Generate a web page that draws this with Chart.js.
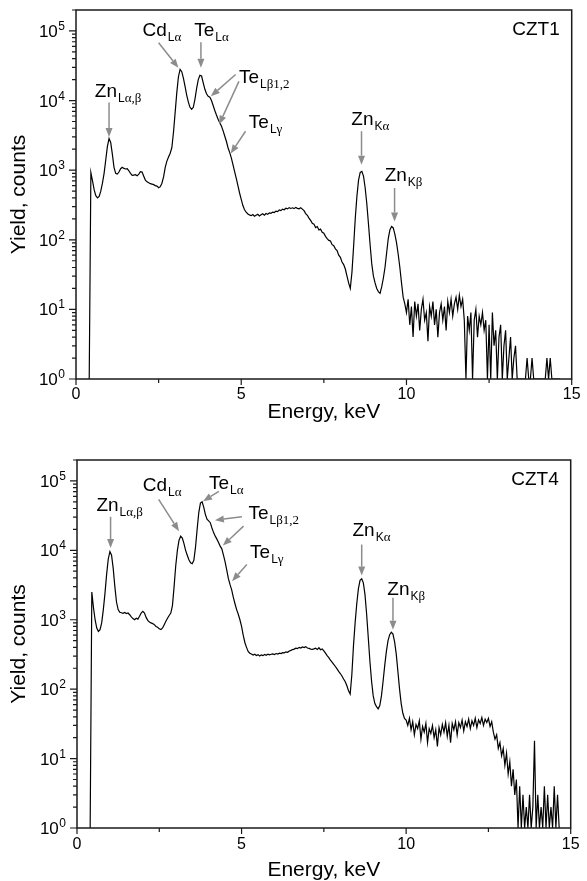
<!DOCTYPE html>
<html>
<head>
<meta charset="utf-8">
<script src="https://cdn.jsdelivr.net/npm/chart.js@4.4.1/dist/chart.umd.min.js"></script>
<style>
html, body { margin: 0; padding: 0; background: #fff; overflow: hidden; }
.panel { position: absolute; left: 0; width: 587px; }
#panel-czt1 { top: 0; height: 430px; }
#panel-czt4 { top: 430px; height: 451px; }
</style>
</head>
<body>
<div class="panel" id="panel-czt1"><canvas id="grafico-czt1"></canvas></div>
<div class="panel" id="panel-czt4"><canvas id="grafico-czt4"></canvas></div>
<script>
// channel energies, keV (one row per keV)
const energy = [
    0.40, 0.45, 0.50, 0.55, 0.60, 0.65, 0.70, 0.75, 0.80, 0.85, 0.90, 0.95,
    1.00, 1.05, 1.10, 1.15, 1.20, 1.25, 1.30, 1.35, 1.40, 1.45, 1.50, 1.55, 1.60, 1.65, 1.70, 1.75, 1.80, 1.85, 1.90, 1.95,
    2.00, 2.05, 2.10, 2.15, 2.20, 2.25, 2.30, 2.35, 2.40, 2.45, 2.50, 2.55, 2.60, 2.65, 2.70, 2.75, 2.80, 2.85, 2.90, 2.95,
    3.00, 3.05, 3.10, 3.15, 3.20, 3.25, 3.30, 3.35, 3.40, 3.45, 3.50, 3.55, 3.60, 3.65, 3.70, 3.75, 3.80, 3.85, 3.90, 3.95,
    4.00, 4.05, 4.10, 4.15, 4.20, 4.25, 4.30, 4.35, 4.40, 4.45, 4.50, 4.55, 4.60, 4.65, 4.70, 4.75, 4.80, 4.85, 4.90, 4.95,
    5.00, 5.05, 5.10, 5.15, 5.20, 5.25, 5.30, 5.35, 5.40, 5.45, 5.50, 5.55, 5.60, 5.65, 5.70, 5.75, 5.80, 5.85, 5.90, 5.95,
    6.00, 6.05, 6.10, 6.15, 6.20, 6.25, 6.30, 6.35, 6.40, 6.45, 6.50, 6.55, 6.60, 6.65, 6.70, 6.75, 6.80, 6.85, 6.90, 6.95,
    7.00, 7.05, 7.10, 7.15, 7.20, 7.25, 7.30, 7.35, 7.40, 7.45, 7.50, 7.55, 7.60, 7.65, 7.70, 7.75, 7.80, 7.85, 7.90, 7.95,
    8.00, 8.05, 8.10, 8.15, 8.20, 8.25, 8.30, 8.35, 8.40, 8.45, 8.50, 8.55, 8.60, 8.65, 8.70, 8.75, 8.80, 8.85, 8.90, 8.95,
    9.00, 9.05, 9.10, 9.15, 9.20, 9.25, 9.30, 9.35, 9.40, 9.45, 9.50, 9.55, 9.60, 9.65, 9.70, 9.75, 9.80, 9.85, 9.90, 9.95,
    10.00, 10.05, 10.10, 10.15, 10.20, 10.25, 10.30, 10.35, 10.40, 10.45, 10.50, 10.55, 10.60, 10.65, 10.70, 10.75, 10.80, 10.85, 10.90, 10.95,
    11.00, 11.05, 11.10, 11.15, 11.20, 11.25, 11.30, 11.35, 11.40, 11.45, 11.50, 11.55, 11.60, 11.65, 11.70, 11.75, 11.80, 11.85, 11.90, 11.95,
    12.00, 12.05, 12.10, 12.15, 12.20, 12.25, 12.30, 12.35, 12.40, 12.45, 12.50, 12.55, 12.60, 12.65, 12.70, 12.75, 12.80, 12.85, 12.90, 12.95,
    13.00, 13.05, 13.10, 13.15, 13.20, 13.25, 13.30, 13.35, 13.40, 13.45, 13.50, 13.55, 13.60, 13.65, 13.70, 13.75, 13.80, 13.85, 13.90, 13.95,
    14.00, 14.05, 14.10, 14.15, 14.20, 14.25, 14.30, 14.35, 14.40, 14.45, 14.50, 14.55, 14.60, 14.65
];

const countsCZT1 = [
    1, 920, 700, 520, 430, 400, 420, 500, 650, 900, 1400, 2200,
    2850, 2500, 1700, 1100, 900, 880, 940, 1050, 1100, 1060, 1040, 1050, 980, 900, 840, 850, 860, 830, 880, 950,
    940, 820, 720, 680, 660, 640, 630, 620, 600, 590, 560, 580, 650, 800, 1100, 1350, 1550, 1750, 2100, 3500,
    6700, 13000, 22000, 28000, 26000, 21000, 16000, 12000, 9500, 8000, 7500, 8000, 10500, 15000, 20000, 23000, 22500, 18000, 14500, 12500,
    11500, 11200, 10000, 8500, 7200, 6200, 5400, 4800, 4300, 3700, 3100, 2600, 2100, 1800, 1500, 1200, 950, 760, 600, 470,
    380, 310, 270, 250, 235, 228, 222, 230, 218, 225, 232, 220, 228, 236, 226, 238, 232, 244, 240, 250,
    246, 258, 254, 268, 262, 276, 270, 284, 278, 290, 282, 288, 280, 292, 283, 278, 288, 276, 262, 238,
    225, 205, 190, 172, 168, 150, 155, 138, 142, 128, 124, 112, 104, 98, 96, 85, 82, 74, 70, 60,
    56, 48, 44, 38, 30, 24, 20, 34, 80, 200, 420, 720, 930, 960, 820, 560, 330, 170, 85, 45,
    30, 24, 20, 18, 17, 21, 28, 40, 65, 105, 140, 155, 148, 120, 90, 62, 40, 24, 15, 12,
    9, 14, 6, 11, 4, 13, 8, 12, 5, 10, 14, 7, 9, 3.5, 11, 8, 13, 6, 10, 4,
    9, 12, 7, 11, 5, 13, 9, 14, 8, 12, 15, 10, 16, 11, 14, 7, 1, 8, 5, 9,
    1, 7, 10, 4, 8, 6, 9, 5, 7, 1, 6, 1, 9, 3, 5, 1, 4, 6, 1, 3,
    5, 1, 2, 4, 1, 2, 3, 1, 1, 1, 1, 1, 1, 2, 1, 1, 2, 1, 1, 1,
    1, 1, 1, 1, 1, 2, 1, 2, 1, 1, 1, 1, 1, 1
];

const countsCZT4 = [
    1, 2500, 1500, 1000, 760, 680, 720, 900, 1400, 2400, 4500, 7500,
    9600, 8500, 5500, 3000, 1800, 1400, 1280, 1260, 1240, 1270, 1230, 1250, 1180, 1100, 1040, 1000, 1050, 1020, 1120, 1250,
    1320, 1250, 1080, 980, 930, 900, 880, 850, 800, 780, 740, 720, 760, 850, 950, 1050, 1150, 1250, 1600, 3000,
    6000, 10000, 14000, 16000, 15000, 12500, 10000, 8500, 7300, 6600, 6400, 7200, 11000, 20000, 35000, 48000, 50000, 42000, 33000, 28000,
    26500, 25000, 21000, 18000, 16000, 14500, 13000, 11500, 10500, 8500, 6800, 5200, 3900, 3200, 2700, 2100, 1700, 1400, 1200, 1000,
    800, 600, 470, 400, 350, 330, 320, 310, 318, 306, 314, 300, 312, 304, 316, 308, 320, 312, 318, 322,
    316, 326, 320, 330, 326, 336, 334, 345, 340, 355, 362, 372, 378, 390, 385, 400, 392, 405, 398, 410,
    392, 386, 378, 374, 380, 388, 372, 395, 370, 380, 355, 330, 305, 285, 262, 245, 228, 212, 196, 180,
    168, 155, 140, 128, 112, 95, 85, 160, 420, 900, 1700, 2800, 3700, 3900, 3400, 2300, 1200, 550, 250, 130,
    80, 62, 56, 52, 58, 80, 130, 220, 350, 500, 610, 660, 620, 480, 320, 180, 100, 62, 45, 38,
    36, 30, 38, 26, 34, 22, 31, 27, 35, 19, 29, 24, 32, 17, 27, 23, 30, 20, 26, 15,
    28, 22, 31, 24, 33, 21, 30, 17, 32, 26, 34, 22, 33, 28, 36, 25, 34, 29, 37, 27,
    35, 30, 38, 28, 36, 32, 39, 30, 37, 33, 38, 29, 34, 24, 19, 22, 14, 17, 11, 14,
    8, 12, 6, 9, 4, 7, 3, 5, 1, 4, 1, 3, 1, 2, 1, 3, 1, 2, 18, 1,
    3, 1, 2, 1, 4, 1, 3, 1, 2, 1, 4, 1, 3, 1
];

const xMajorTicks = [0, 5, 10, 15];
const xMinorTicks = [2.5, 7.5, 12.5];
const yDecades = [1, 10, 100, 1000, 10000, 100000];
const yMinorFactors = [2, 3, 4, 5, 6, 7, 8, 9];

// peak labels: main text, subscript, anchor (energy, counts)
const labelsCZT1 = [
    {main: 'Zn', sub: 'Lα,β', e: 0.57, c: 11400},
    {main: 'Cd', sub: 'Lα', e: 2.01, c: 84100},
    {main: 'Te', sub: 'Lα', e: 3.58, c: 84100},
    {main: 'Te', sub: 'Lβ1,2', e: 4.93, c: 18000},
    {main: 'Te', sub: 'Lγ', e: 5.23, c: 4090},
    {main: 'Zn', sub: 'Kα', e: 8.33, c: 4520},
    {main: 'Zn', sub: 'Kβ', e: 9.34, c: 690}
];
const arrowsCZT1 = [
    [1.00, 9400, 1.00, 3000],
    [2.50, 67600, 3.10, 29500],
    [3.78, 69000, 3.78, 29500],
    [4.83, 23700, 4.08, 11500],
    [4.93, 18900, 4.33, 4520],
    [5.13, 3620, 4.68, 1730],
    [8.64, 3620, 8.64, 1200],
    [9.64, 555, 9.64, 183]
];
const labelsCZT4 = [
    {main: 'Zn', sub: 'Lα,β', e: 0.59, c: 36600},
    {main: 'Cd', sub: 'Lα', e: 2.00, c: 71300},
    {main: 'Te', sub: 'Lα', e: 4.01, c: 75400},
    {main: 'Te', sub: 'Lβ1,2', e: 5.21, c: 27800},
    {main: 'Te', sub: 'Lγ', e: 5.26, c: 7800},
    {main: 'Zn', sub: 'Kα', e: 8.37, c: 16000},
    {main: 'Zn', sub: 'Kβ', e: 9.43, c: 2300}
];
const arrowsCZT4 = [
    [1.02, 30400, 1.02, 10800],
    [2.48, 54100, 3.10, 18900],
    [4.31, 70500, 3.83, 51100],
    [5.01, 30400, 4.19, 27200],
    [5.06, 22300, 4.43, 11700],
    [5.16, 6240, 4.71, 3580],
    [8.65, 12100, 8.65, 4330],
    [9.60, 2070, 9.60, 720]
];

const SANS = '"Liberation Sans", Arial, sans-serif';
const SERIF = '"Liberation Serif", "Times New Roman", serif';

function drawArrow(ctx, x0, y0, x1, y1) {
    const ang = Math.atan2(y1 - y0, x1 - x0);
    const headLen = 9, headW = 3.5;
    const bx = x1 - headLen * Math.cos(ang), by = y1 - headLen * Math.sin(ang);
    ctx.strokeStyle = '#8c8c8c';
    ctx.fillStyle = '#8c8c8c';
    ctx.lineWidth = 1.5;
    ctx.beginPath();
    ctx.moveTo(x0, y0);
    ctx.lineTo(bx, by);
    ctx.stroke();
    ctx.beginPath();
    ctx.moveTo(x1, y1);
    ctx.lineTo(bx - headW * Math.sin(ang), by + headW * Math.cos(ang));
    ctx.lineTo(bx + headW * Math.sin(ang), by - headW * Math.cos(ang));
    ctx.closePath();
    ctx.fill();
}

function drawPeakLabel(ctx, lbl, x, y) {
    ctx.fillStyle = '#000';
    ctx.textAlign = 'left';
    ctx.textBaseline = 'alphabetic';
    ctx.font = '19px ' + SANS;
    ctx.fillText(lbl.main, x, y);
    let cx = x + ctx.measureText(lbl.main).width + 1;
    for (const ch of lbl.sub) {
        ctx.font = 'LK'.includes(ch) ? '12px ' + SANS : '13px ' + SERIF;
        ctx.fillText(ch, cx, y + 5);
        cx += ctx.measureText(ch).width;
    }
}

const spectrumDecor = {
    id: 'spectrumDecor',
    afterDatasetsDraw(chart, args, opts) {
        const ctx = chart.ctx;
        const {left, right, top, bottom} = chart.chartArea;
        const xs = chart.scales.x, ys = chart.scales.y;
        ctx.save();

        // frame
        ctx.strokeStyle = '#1a1a1a';
        ctx.lineWidth = 1.5;
        ctx.strokeRect(left, top, right - left, bottom - top);

        // tick marks
        ctx.lineWidth = 1.2;
        ctx.beginPath();
        xMajorTicks.forEach(v => { const p = xs.getPixelForValue(v); ctx.moveTo(p, bottom); ctx.lineTo(p, bottom + 6); });
        xMinorTicks.forEach(v => { const p = xs.getPixelForValue(v); ctx.moveTo(p, bottom); ctx.lineTo(p, bottom + 4); });
        yDecades.forEach(d => {
            const p = ys.getPixelForValue(d);
            ctx.moveTo(left, p); ctx.lineTo(left - 7, p);
            yMinorFactors.forEach(f => {
                if (d * f > ys.max) return;
                const q = ys.getPixelForValue(d * f);
                ctx.moveTo(left, q); ctx.lineTo(left - 4, q);
            });
        });
        ctx.stroke();

        // y tick labels 10^n
        ctx.fillStyle = '#000';
        ctx.textBaseline = 'alphabetic';
        ctx.textAlign = 'left';
        ys.ticks.forEach(t => {
            const expo = String(Math.round(Math.log10(t.value)));
            const p = ys.getPixelForValue(t.value);
            ctx.font = '12px ' + SANS;
            const wSup = ctx.measureText(expo).width;
            ctx.font = '17px ' + SANS;
            const wBase = ctx.measureText('10').width;
            const xEnd = left - 11;
            ctx.fillText('10', xEnd - wSup - wBase - 0.5, p + 6);
            ctx.font = '12px ' + SANS;
            ctx.fillText(expo, xEnd - wSup, p - 1);
        });

        // annotations
        opts.arrows.forEach(a => drawArrow(ctx,
            xs.getPixelForValue(a[0]), ys.getPixelForValue(a[1]),
            xs.getPixelForValue(a[2]), ys.getPixelForValue(a[3])));
        opts.labels.forEach(l => drawPeakLabel(ctx, l, xs.getPixelForValue(l.e), ys.getPixelForValue(l.c)));

        ctx.fillStyle = '#000';
        ctx.font = '19px ' + SANS;
        ctx.textAlign = 'right';
        ctx.fillText(opts.sample, right - 12, top + 25);
        ctx.restore();
    }
};

function createSpectrum(canvasId, counts, sample, labels, arrows, geo) {
    const ctx = document.getElementById(canvasId).getContext('2d');
    return new Chart(ctx, {
        type: 'line',
        data: {
            datasets: [{
                label: sample,
                data: energy.map((e, i) => ({x: e, y: counts[i]})),
                borderColor: '#000',
                borderWidth: 1.2,
                pointRadius: 0,
                tension: 0,
                fill: false
            }]
        },
        options: {
            responsive: true,
            maintainAspectRatio: false,
            animation: false,
            events: [],
            layout: {padding: {left: 0, top: geo.padTop, right: 12, bottom: 0}},
            plugins: {
                legend: {display: false},
                tooltip: {enabled: false},
                spectrumDecor: {sample: sample, labels: labels, arrows: arrows}
            },
            scales: {
                x: {
                    type: 'linear',
                    min: 0,
                    max: 15,
                    afterBuildTicks: scale => { scale.ticks = xMajorTicks.map(v => ({value: v})); },
                    afterFit: scale => { scale.height = geo.xHeight; },
                    grid: {display: false, drawTicks: false},
                    border: {display: false},
                    ticks: {
                        padding: geo.xTickPad,
                        color: '#000',
                        font: {family: SANS, size: 16},
                        maxRotation: 0
                    },
                    title: {
                        display: true,
                        text: 'Energy, keV',
                        color: '#000',
                        font: {family: SANS, size: 21, lineHeight: 1},
                        padding: {top: 0, bottom: geo.xTitlePad}
                    }
                },
                y: {
                    type: 'logarithmic',
                    min: 1,
                    max: 200000,
                    afterBuildTicks: scale => { scale.ticks = yDecades.map(v => ({value: v})); },
                    afterFit: scale => { scale.width = geo.yWidth; },
                    grid: {display: false, drawTicks: false},
                    border: {display: false},
                    ticks: {display: false},
                    title: {
                        display: true,
                        text: 'Yield, counts',
                        color: '#000',
                        font: {family: SANS, size: 21, lineHeight: 1},
                        padding: {top: 9, bottom: 0}
                    }
                }
            }
        },
        plugins: [spectrumDecor]
    });
}

document.addEventListener('DOMContentLoaded', function() {
    createSpectrum('grafico-czt1', countsCZT1, 'CZT1', labelsCZT1, arrowsCZT1,
        {padTop: 10, xHeight: 51, yWidth: 76, xTickPad: 6.4, xTitlePad: 7.5});
    createSpectrum('grafico-czt4', countsCZT4, 'CZT4', labelsCZT4, arrowsCZT4,
        {padTop: 30, xHeight: 53, yWidth: 77, xTickPad: 7.4, xTitlePad: 0.5});
});
</script>
</body>
</html>
